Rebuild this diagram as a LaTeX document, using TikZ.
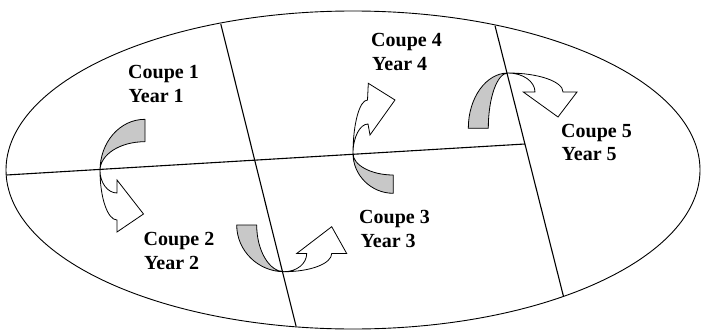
\documentclass[tikz,border=0pt]{standalone}
\usepackage{fontspec}
\setmainfont{Liberation Serif}
\definecolor{bandgray}{RGB}{200,200,200}
\begin{document}
\begin{tikzpicture}[x=1pt,y=-1pt,
  divider/.style={line width=1.1pt},
  outline/.style={line width=0.9pt},
  backband/.style={draw=black, line width=0.8pt, fill=bandgray, line join=round},
  frontband/.style={draw=black, line width=0.8pt, fill=white, line join=miter},
  lbl/.style={font=\bfseries\fontsize{20}{23}\selectfont, inner sep=0pt, anchor=base west}]
\useasboundingbox (0,0) rectangle (703,329);
\fill[white] (0,0) rectangle (703,329);

% ---- curved arrows ----
% Coupe 1 -> Coupe 2
\path[backband] (145,119.3) -- (145,141.7) .. controls (119.6,141.7) and (100,154.8) .. (100,170.5)
  .. controls (100,142.5) and (119.6,119.3) .. (145,119.3) -- cycle;
\path[frontband] (100,170.5) .. controls (100,197.6) and (107.6,220) .. (117,220) -- (117,232) -- (143.5,214)
  -- (117,180) -- (117,193) .. controls (107.6,193) and (100,182.7) .. (100,170.5) -- cycle;
% Coupe 2 -> Coupe 3
\path[backband] (236.7,225) -- (256.7,225) .. controls (256.7,250.8) and (269.4,271.7) .. (284,271.7)
  .. controls (258.3,271.7) and (236.7,250.8) .. (236.7,225) -- cycle;
\path[frontband] (284,271.7) .. controls (310.8,271.7) and (331.7,263.5) .. (331.7,253.5) -- (346.7,253.5)
  -- (331.7,226.7) -- (296.7,253.5) -- (306.7,253.5) .. controls (306.7,263.5) and (297,271.7) .. (284,271.7) -- cycle;
% Coupe 3 -> Coupe 4
\path[backband] (393.3,175) -- (393.3,193.3) .. controls (371.1,193.3) and (353,175.2) .. (353,153.5)
  .. controls (353,165.1) and (371.1,175) .. (393.3,175) -- cycle;
\path[frontband] (353,153.5) .. controls (353,124) and (359.5,100) .. (367.5,100) -- (368.3,83.3)
  -- (395,100) -- (370,135) -- (368,124) .. controls (360,124) and (353,137) .. (353,153.5) -- cycle;
% Coupe 4 -> Coupe 5
\path[backband] (468.3,128.3) -- (488.3,128.3) .. controls (488.3,97.8) and (497.1,73) .. (508,73)
  .. controls (486.1,73) and (468.3,97.8) .. (468.3,128.3) -- cycle;
\path[frontband] (508,73) .. controls (538.4,73) and (563,81.5) .. (563,92) -- (577,92)
  -- (558,117) -- (523.3,92) -- (535,92) .. controls (535,81.5) and (522.9,73) .. (508,73) -- cycle;

% ---- field outline and boundaries ----
\coordinate (ctr) at (353,170);
\coordinate (hl) at (6.5,175);
\coordinate (hr) at (524.9,144);
\coordinate (v1t) at (220.8,24);
\coordinate (v1b) at (296,326);
\coordinate (v2t) at (495,25.7);
\coordinate (v2b) at (563.5,296.5);
\draw[outline] (ctr) ellipse [x radius=347pt, y radius=159pt];
\draw[divider] (hl) -- (hr);
\draw[divider] (v1t) -- (v1b);
\draw[divider] (v2t) -- (v2b);

% ---- labels ----
\node[lbl] (c1) at (128,78.5) {Coupe 1};
\node[lbl] (y1) at (128.5,102) {Year 1};
\node[lbl] (c2) at (143.5,245.5) {Coupe 2};
\node[lbl] (y2) at (144,269) {Year 2};
\node[lbl] (c3) at (359,223.5) {Coupe 3};
\node[lbl] (y3) at (360.5,247) {Year 3};
\node[lbl] (c4) at (371,46.5) {Coupe 4};
\node[lbl] (y4) at (372,70.5) {Year 4};
\node[lbl] (c5) at (561,137) {Coupe 5};
\node[lbl] (y5) at (561.5,160.5) {Year 5};
\end{tikzpicture}
\end{document}
